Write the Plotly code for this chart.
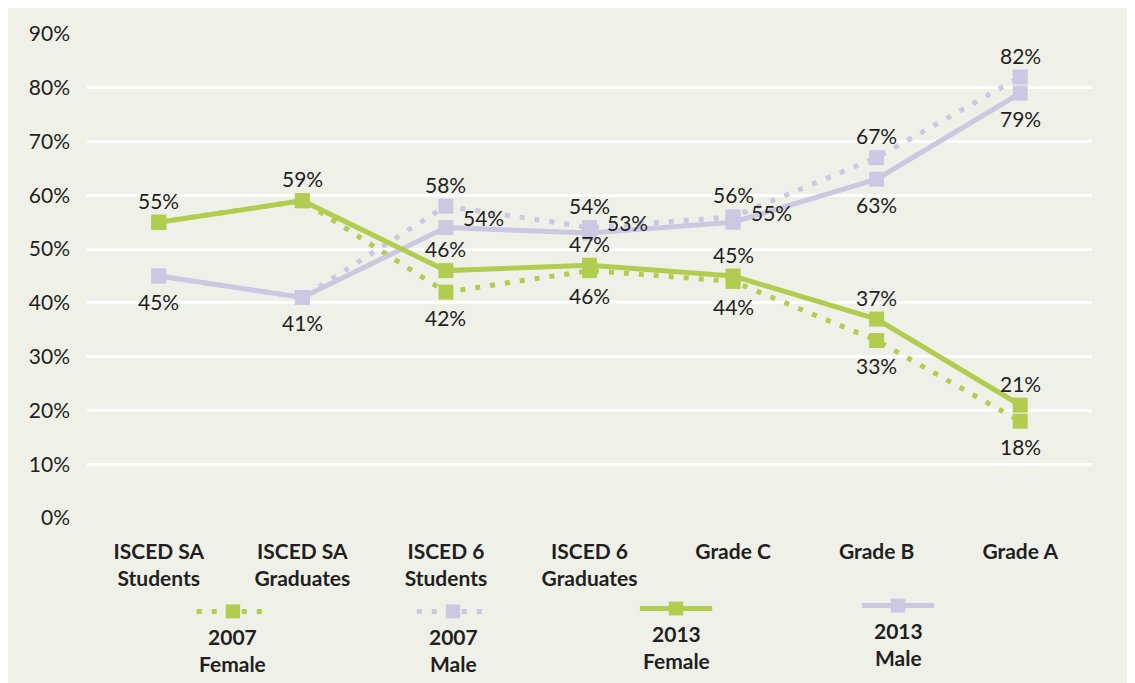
import plotly.graph_objects as go

# ----------------------------------------------------------------------------------------------------------------------
# Data
# ----------------------------------------------------------------------------------------------------------------------
categories = ["ISCED SA<br>Students", "ISCED SA<br>Graduates", "ISCED 6<br>Students", "ISCED 6<br>Graduates",
              "Grade C", "Grade B", "Grade A"]

female_2007 = [55, 59, 42, 46, 44, 33, 18]
male_2007 = [45, 41, 58, 54, 56, 67, 82]
female_2013 = [55, 59, 46, 47, 45, 37, 21]
male_2013 = [45, 41, 54, 53, 55, 63, 79]

# label placement per point ("" = no label, the first two points are shared by both years)
lab_female_2007 = ["", "", "below", "below", "below", "below", "below"]
lab_male_2007 = ["", "", "above", "above", "above", "above", "above"]
lab_female_2013 = ["above"] * 7
lab_male_2013 = ["below", "below", "right", "right", "right", "below", "below"]

y_ticks = list(range(0, 100, 10))

legend_names = ["2007<br>Female", "2007<br>Male", "2013<br>Female", "2013<br>Male"]

# ----------------------------------------------------------------------------------------------------------------------
# Style
# ----------------------------------------------------------------------------------------------------------------------
GREEN = "#b2cc50"
LAVENDER = "#cbc8e2"
PANEL = "#eff1e9"
TEXT = "#231f20"
FONT = "Lato, 'Open Sans', sans-serif"
DOT = "5px,10px"

shift = {"above": (0, 22), "below": (0, -25), "right": (38, 10)}

fig = go.Figure()
annotations = []


def add_series(values, places, color, dash, name):
    fig.add_trace(go.Scatter(x=categories, y=values, mode="lines+markers", name=name,
                             line=dict(color=color, width=5, dash=dash),
                             marker=dict(symbol="square", size=15, color=color),
                             showlegend=False, cliponaxis=False))
    for cat, v, p in zip(categories, values, places):
        if p:
            dx, dy = shift[p]
            annotations.append(dict(x=cat, y=v, text=f"{v}%", showarrow=False, xshift=dx, yshift=dy,
                                    xanchor="center", yanchor="middle",
                                    font=dict(size=21, color=TEXT, family=FONT)))


add_series(female_2007, lab_female_2007, GREEN, DOT, "2007 Female")
add_series(male_2007, lab_male_2007, LAVENDER, DOT, "2007 Male")
add_series(male_2013, lab_male_2013, LAVENDER, "solid", "2013 Male")
add_series(female_2013, lab_female_2013, GREEN, "solid", "2013 Female")

# ----------------------------------------------------------------------------------------------------------------------
# Custom legend under the chart (symbol above, bold label below)
# ----------------------------------------------------------------------------------------------------------------------
shapes = []
legend_x = [0.1452, 0.3642, 0.5861, 0.8070]
legend_y = [-0.193, -0.193, -0.187, -0.181]
legend_style = [(GREEN, DOT), (LAVENDER, DOT), (GREEN, "solid"), (LAVENDER, "solid")]
for cx, cy, (col, dash), name in zip(legend_x, legend_y, legend_style, legend_names):
    shapes.append(dict(type="line", xref="paper", yref="paper", x0=cx - 0.036, x1=cx + 0.036, y0=cy, y1=cy,
                       line=dict(color=col, width=5, dash=dash)))
    shapes.append(dict(type="rect", xref="paper", yref="paper", x0=cx - 0.0072, x1=cx + 0.0072,
                       y0=cy - 0.0144, y1=cy + 0.0144, fillcolor=col, line_width=0))
    annotations.append(dict(xref="paper", yref="paper", x=cx, y=cy - 0.022, text=f"<b>{name}</b>",
                            showarrow=False, xanchor="center", yanchor="top", align="center",
                            font=dict(size=21, color=TEXT, family=FONT)))

# the page keeps the browser's 8px body margin, so the figure is a bit smaller than the window
fig.update_layout(width=1127, height=675, margin=dict(l=79, r=43, t=23, b=165),
                  paper_bgcolor=PANEL, plot_bgcolor=PANEL, shapes=shapes, annotations=annotations,
                  font=dict(family=FONT, color=TEXT, size=20), showlegend=False)

fig.update_xaxes(range=[-0.5, 6.5], showgrid=False, showline=False, zeroline=False, ticks="",
                 ticklabelstandoff=19,
                 tickfont=dict(size=21, color=TEXT, family=FONT), tickprefix="<b>", ticksuffix="</b>")
fig.update_yaxes(range=[0, 90], tickvals=y_ticks, ticktext=[f"{v}%" for v in y_ticks],
                 showgrid=True, gridcolor="white", gridwidth=2.5, zeroline=False, showline=False,
                 ticks="", ticklabelstandoff=16, tickfont=dict(size=21, color=TEXT, family=FONT))

fig.write_html("out.html")
